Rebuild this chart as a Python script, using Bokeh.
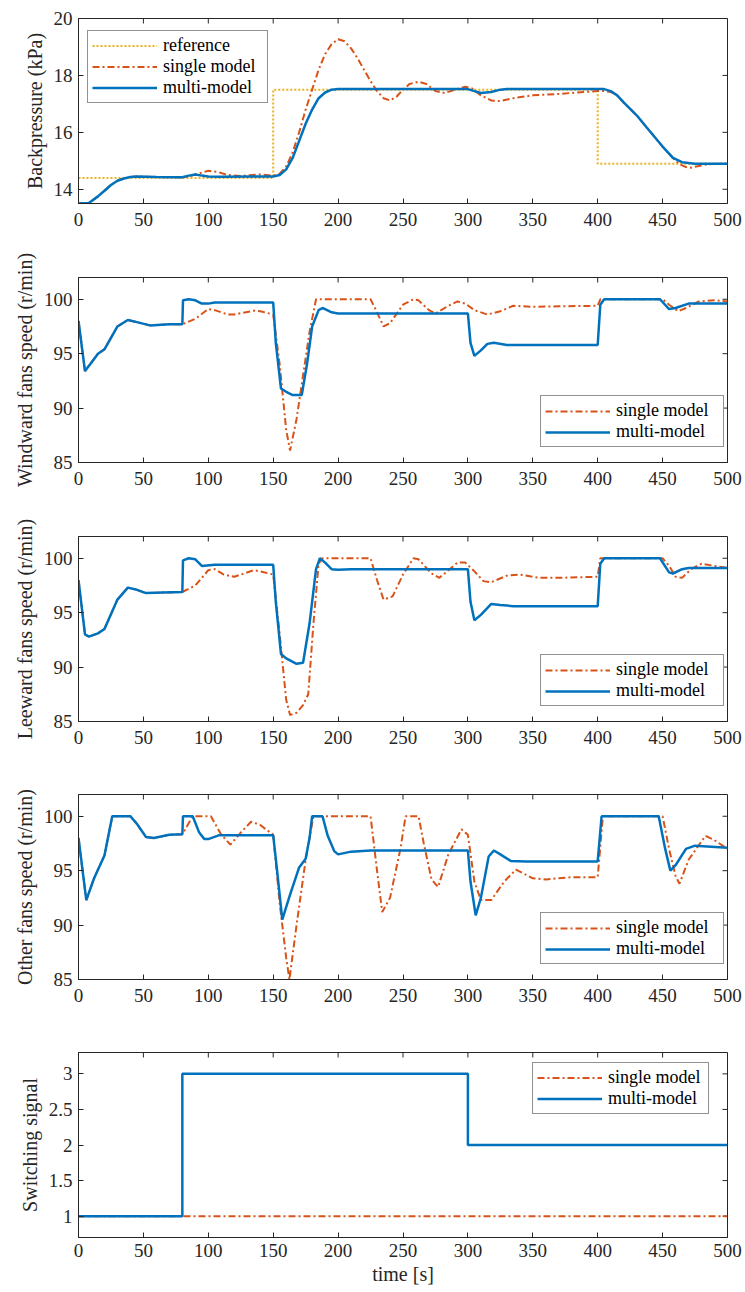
import math
from bokeh.plotting import figure
from bokeh.layouts import column
from bokeh.models import (Range1d, FixedTicker, Legend, LegendItem, CustomJSTickFormatter)
from bokeh.embed import file_html
from bokeh.resources import INLINE

BLUE = "#0072BD"
ORANGE = "#D95319"
YELLOW = "#EDB120"
INK = "#262626"
FONT = "Liberation Serif"

# ---------------- data ----------------
x_ticks = [0, 50, 100, 150, 200, 250, 300, 350, 400, 450, 500]

# Panel 1: backpressure (kPa)
bp_ref_t = [0, 150, 150, 400, 400, 500]
bp_ref_v = [14.4, 14.4, 17.5, 17.5, 14.9, 14.9]
bp_multi_t = [0, 8, 15, 20, 25, 30, 35, 40, 45, 60, 75, 80, 85, 90, 95, 100, 110, 150, 155, 160,
              165, 170, 175, 180, 185, 190, 195, 200, 300, 305, 310, 318, 325, 330, 405, 410, 415,
              420, 430, 440, 450, 458, 465, 475, 500]
bp_multi_v = [13.5, 13.52, 13.75, 13.95, 14.15, 14.3, 14.38, 14.43, 14.45, 14.43, 14.42, 14.42,
              14.48, 14.52, 14.48, 14.45, 14.44, 14.45, 14.5, 14.7, 15.1, 15.7, 16.3, 16.8, 17.2,
              17.4, 17.5, 17.52, 17.52, 17.45, 17.38, 17.42, 17.5, 17.52, 17.52, 17.45, 17.3,
              17.05, 16.6, 16.05, 15.5, 15.1, 14.95, 14.9, 14.9]
bp_single_t = [0, 8, 15, 20, 25, 30, 35, 40, 45, 60, 75, 80, 85, 90, 100, 108, 115, 125, 140, 150,
               155, 160, 165, 170, 175, 180, 185, 190, 195, 200, 205, 210, 215, 220, 225, 230, 235,
               240, 245, 250, 255, 262, 268, 275, 282, 290, 298, 303, 310, 318, 325, 335, 350, 370,
               390, 400, 405, 410, 415, 420, 430, 440, 450, 458, 463, 468, 472, 478, 485, 495, 500]
bp_single_v = [13.5, 13.52, 13.75, 13.95, 14.15, 14.3, 14.38, 14.43, 14.45, 14.43, 14.42, 14.42,
               14.45, 14.52, 14.65, 14.6, 14.5, 14.47, 14.52, 14.48, 14.55, 14.8, 15.3, 16.0, 16.8,
               17.5, 18.2, 18.75, 19.1, 19.27, 19.2, 18.95, 18.6, 18.2, 17.8, 17.45, 17.2, 17.12,
               17.25, 17.5, 17.7, 17.78, 17.7, 17.45, 17.38, 17.5, 17.6, 17.55, 17.3, 17.12, 17.1,
               17.2, 17.3, 17.35, 17.42, 17.45, 17.45, 17.42, 17.3, 17.05, 16.6, 16.05, 15.5, 15.1,
               14.88, 14.78, 14.76, 14.82, 14.88, 14.9, 14.9]

# Panel 2: windward fans speed (r/min)
ww_multi_t = [0, 5, 10, 15, 20, 30, 38, 45, 55, 70, 80, 80.5, 85, 90, 95, 100, 105, 150, 152, 156,
              160, 165, 172, 176, 180, 185, 188, 195, 200, 300, 302, 305, 310, 315, 320, 330, 400,
              402, 405, 448, 455, 460, 470, 480, 500]
ww_multi_v = [98, 93.4, 94.2, 95.0, 95.4, 97.5, 98.1, 97.9, 97.6, 97.7, 97.7, 99.9, 100, 99.9,
              99.6, 99.6, 99.7, 99.7, 96, 91.8, 91.5, 91.2, 91.2, 94, 97.5, 99.0, 99.2, 98.8, 98.7,
              98.7, 96, 94.8, 95.3, 95.9, 96.0, 95.8, 95.8, 99.5, 100, 100, 99.1, 99.2, 99.6, 99.6,
              99.6]
ww_single_t = [0, 5, 10, 15, 20, 30, 38, 45, 55, 70, 80, 90, 100, 105, 115, 120, 135, 140, 150,
               155, 160, 163, 168, 173, 178, 183, 225, 230, 235, 240, 250, 258, 262, 270, 275, 285,
               292, 298, 305, 315, 325, 335, 350, 370, 400, 402, 450, 455, 462, 468, 478, 490, 500]
ww_single_v = [98, 93.4, 94.2, 95.0, 95.4, 97.5, 98.1, 97.9, 97.6, 97.7, 97.7, 98.2, 99.1, 99.0,
               98.6, 98.6, 98.95, 98.9, 98.6, 94, 88, 86.1, 89, 93, 97, 100, 100, 98.8, 97.5, 97.8,
               99.5, 100, 99.9, 99.0, 98.7, 99.4, 99.8, 99.6, 99.0, 98.6, 98.9, 99.4, 99.3, 99.35,
               99.4, 100, 100, 99.5, 98.9, 99.2, 99.8, 99.9, 99.8]

# Panel 3: leeward fans speed (r/min)
lw_multi_t = [0, 5, 8, 15, 20, 30, 38, 45, 52, 65, 80, 80.5, 85, 90, 95, 105, 150, 152, 156, 160,
              168, 173, 178, 183, 186, 190, 195, 200, 210, 300, 302, 305, 310, 318, 325, 335, 400,
              402, 405, 448, 455, 458, 465, 470, 500]
lw_multi_v = [98, 93, 92.8, 93.1, 93.5, 96.2, 97.3, 97.1, 96.8, 96.85, 96.9, 99.8, 100, 99.9,
              99.3, 99.4, 99.4, 96, 91.2, 90.8, 90.3, 90.4, 94, 99, 100, 99.6, 99.0, 98.95, 99.0,
              99.0, 96, 94.3, 94.8, 95.8, 95.7, 95.6, 95.6, 99.5, 100, 100, 98.7, 98.6, 99.0, 99.1,
              99.1]
lw_single_t = [0, 5, 8, 15, 20, 30, 38, 45, 52, 65, 80, 90, 100, 105, 112, 120, 135, 140, 150,
               155, 160, 163, 168, 173, 177, 181, 185, 188, 225, 230, 235, 242, 250, 258, 262, 272,
               278, 285, 292, 298, 305, 312, 318, 330, 340, 355, 370, 400, 402, 450, 455, 460, 465,
               472, 480, 490, 500]
lw_single_v = [98, 93, 92.8, 93.1, 93.5, 96.2, 97.3, 97.1, 96.8, 96.85, 96.9, 97.5, 98.9, 99.0,
               98.5, 98.3, 98.9, 98.8, 98.5, 93, 87, 85.6, 85.8, 86.5, 87.5, 94, 99.5, 100, 100,
               98, 96.2, 96.5, 98.5, 100, 99.9, 98.6, 98.2, 98.9, 99.6, 99.6, 98.8, 97.9, 97.8,
               98.4, 98.5, 98.2, 98.2, 98.3, 100, 100, 99.3, 98.3, 98.2, 99.0, 99.5, 99.3, 99.1]

# Panel 4: other fans speed (r/min)
of_multi_t = [0, 6, 12, 20, 26, 40, 45, 52, 58, 70, 80, 80.5, 88, 93, 97, 100, 108, 150, 153,
              157, 163, 170, 175, 178, 180, 188, 192, 197, 200, 210, 225, 300, 302, 306, 310, 316,
              320, 325, 333, 345, 400, 403, 447, 452, 456, 460, 468, 475, 500]
of_multi_v = [98, 92.3, 94.3, 96.4, 100, 100, 99.3, 98.1, 98.0, 98.3, 98.35, 100, 100, 98.5, 97.9,
              97.9, 98.25, 98.25, 95, 90.5, 92.8, 95.3, 96.1, 98, 100, 100, 98.2, 96.8, 96.5,
              96.75, 96.85, 96.85, 94, 90.9, 92.5, 96.3, 96.85, 96.5, 95.9, 95.85, 95.85, 100, 100,
              97, 95.0, 95.5, 97.0, 97.3, 97.1]
of_single_t = [0, 6, 12, 20, 26, 40, 45, 52, 58, 70, 80, 88, 102, 110, 117, 125, 133, 140, 150,
               155, 160, 162.5, 168, 175, 181, 225, 230, 234, 240, 248, 252, 262, 266, 272, 277,
               285, 295, 300, 305, 310, 318, 328, 337, 350, 360, 380, 400, 404, 450, 455, 460, 463,
               470, 483, 490, 500]
of_single_v = [98, 92.3, 94.3, 96.4, 100, 100, 99.3, 98.1, 98.0, 98.3, 98.35, 100, 100, 98.3,
               97.4, 98.5, 99.5, 99.2, 98.3, 92, 87, 85, 90, 96, 100, 100, 95, 91.2, 92.5, 97, 100,
               100, 97.5, 94.2, 93.5, 96.5, 98.8, 98.3, 94, 92.3, 92.3, 94, 95.1, 94.3, 94.2, 94.4,
               94.4, 100, 100, 97, 94.5, 93.8, 96, 98.2, 97.8, 97.0]

# Panel 5: switching signal
sw_multi_t = [0, 80, 80, 300, 300, 500]
sw_multi_v = [1, 1, 3, 3, 2, 2]
sw_single_t = [0, 500]
sw_single_v = [1, 1]

# ---------------- helpers ----------------
FIG_W = 745
BORDER_L = 78
BORDER_R = 18
FRAME_W = FIG_W - BORDER_L - BORDER_R
FRAME_H = 185


def make_fig(top, bottom, yr, yticks, ylabel, xlabel=None, xstandoff=9):
    p = figure(width=FIG_W, height=top + FRAME_H + bottom,
               x_range=Range1d(0, 500), y_range=Range1d(*yr),
               output_backend="svg", toolbar_location=None,
               min_border_left=BORDER_L, min_border_right=BORDER_R,
               min_border_top=top, min_border_bottom=bottom)
    p.xgrid.visible = False
    p.ygrid.visible = False
    p.outline_line_color = INK
    p.outline_line_width = 1
    p.background_fill_color = "white"
    p.border_fill_color = "white"

    xa = p.xaxis[0]
    xa.ticker = FixedTicker(ticks=x_ticks)
    ya = p.yaxis[0]
    ya.ticker = FixedTicker(ticks=yticks)
    for ax in (xa, ya):
        ax.major_tick_in = 5
        ax.major_tick_out = 0
        ax.minor_tick_line_color = None
        ax.axis_line_color = INK
        ax.major_tick_line_color = INK
        ax.major_label_text_font = FONT
        ax.major_label_text_font_size = "19px"
        ax.major_label_text_color = INK
        ax.axis_label_text_font = FONT
        ax.axis_label_text_font_size = "20px"
        ax.axis_label_text_font_style = "normal"
        ax.axis_label_text_color = INK
    xa.major_label_standoff = xstandoff
    ya.major_label_standoff = 6
    ya.axis_label = ylabel
    ya.axis_label_standoff = 5
    if xlabel:
        xa.axis_label = xlabel
        xa.axis_label_standoff = 3

    # mirrored inward tick marks on the top and right edges (MATLAB box style)
    n = len(x_ticks)
    p.ray(x=x_ticks, y=[yr[1]] * n, length=5, length_units="screen",
          angle=-math.pi / 2, line_color=INK, line_width=1)
    m = len(yticks)
    p.ray(x=[500] * m, y=yticks, length=5, length_units="screen",
          angle=math.pi, line_color=INK, line_width=1)
    return p


def add_legend(p, items, location, label_width=96, glyph_h=21):
    leg = Legend(items=items, location=location, orientation="vertical",
                 label_text_font=FONT, label_text_font_size="18px", label_text_color="black",
                 border_line_color=INK, border_line_width=1, background_fill_color="white",
                 background_fill_alpha=1.0, padding=4, spacing=0, margin=0,
                 glyph_width=65, glyph_height=glyph_h, label_height=glyph_h,
                 label_standoff=6, label_width=label_width)
    p.add_layout(leg)


DASHDOT = "7 3 2 3"
DOTTED = "2 2"

# ---------------- panel 1 ----------------
p1 = make_fig(18, 43, (13.5, 20), [14, 16, 18, 20], "Backpressure (kPa)")
r_ref = p1.line(bp_ref_t, bp_ref_v, color=YELLOW, line_width=2, line_dash=DOTTED)
r_s1 = p1.line(bp_single_t, bp_single_v, color=ORANGE, line_width=2, line_dash=DASHDOT)
r_m1 = p1.line(bp_multi_t, bp_multi_v, color=BLUE, line_width=2.5)
add_legend(p1, [LegendItem(label="reference", renderers=[r_ref]),
                LegendItem(label="single model", renderers=[r_s1]),
                LegendItem(label="multi-model", renderers=[r_m1])],
           (9, FRAME_H - 14 - 71), label_width=100, glyph_h=21)

# ---------------- panels 2-4 ----------------
fan_panels = [
    ("Windward fans speed (r/min)", ww_single_t, ww_single_v, ww_multi_t, ww_multi_v, 43),
    ("Leeward fans speed (r/min)", lw_single_t, lw_single_v, lw_multi_t, lw_multi_v, 42),
    ("Other fans speed (r/min)", of_single_t, of_single_v, of_multi_t, of_multi_v, 43),
]
figs = [p1]
for label, st, sv, mt, mv, bot in fan_panels:
    p = make_fig(31, bot, (85, 102), [85, 90, 95, 100], label)
    rs = p.line(st, sv, color=ORANGE, line_width=2, line_dash=DASHDOT)
    rm = p.line(mt, mv, color=BLUE, line_width=2.5)
    add_legend(p, [LegendItem(label="single model", renderers=[rs]),
                   LegendItem(label="multi-model", renderers=[rm])],
               (FRAME_W - 4 - 183, 15), label_width=103, glyph_h=20)
    figs.append(p)

# ---------------- panel 5 ----------------
p5 = make_fig(30, 53, (0.7, 3.3), [1, 1.5, 2, 2.5, 3], "Switching signal",
              xlabel="time [s]", xstandoff=6)
p5.yaxis[0].formatter = CustomJSTickFormatter(code="return String(tick);")
rs5 = p5.line(sw_single_t, sw_single_v, color=ORANGE, line_width=2, line_dash=DASHDOT)
rm5 = p5.line(sw_multi_t, sw_multi_v, color=BLUE, line_width=2.5)
add_legend(p5, [LegendItem(label="single model", renderers=[rs5]),
                LegendItem(label="multi-model", renderers=[rm5])],
           (FRAME_W - 19 - 176, FRAME_H - 12 - 50), label_width=96, glyph_h=21)
figs.append(p5)

layout = column(*figs, spacing=0)
open("out.html", "w").write(file_html(layout, INLINE))
